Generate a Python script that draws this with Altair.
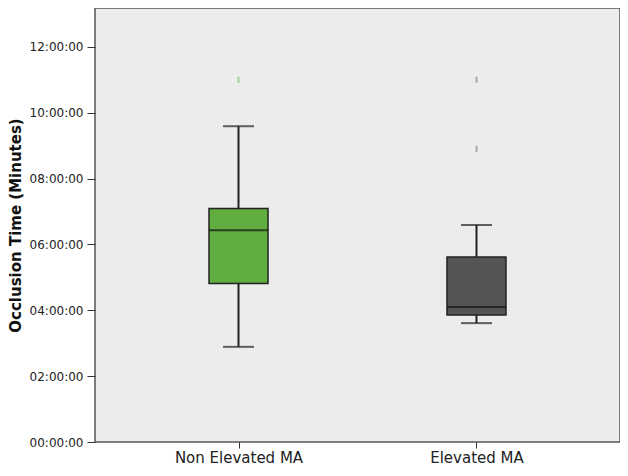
import altair as alt
import pandas as pd

groups = ["Non Elevated MA", "Elevated MA"]
whisker_low = [2.89, 3.61]
q1 = [4.81, 3.86]
median = [6.43, 4.10]
q3 = [7.09, 5.62]
whisker_high = [9.59, 6.59]
box_colors = ["#62ad3f", "#555555"]
outlier_colors = ["#7fc86c", "#8a8a8a"]

outlier_groups = ["Non Elevated MA", "Elevated MA", "Elevated MA"]
outlier_values = [11.0, 11.0, 8.9]

y_ticks = [0, 2, 4, 6, 8, 10, 12]

df = pd.DataFrame({
    "group": groups, "lo": whisker_low, "q1": q1, "med": median,
    "q3": q3, "hi": whisker_high,
})
out_df = pd.DataFrame({"group": outlier_groups, "v": outlier_values})

xenc = alt.X("group:N", sort=groups,
             scale=alt.Scale(type="point", padding=0.603),
             axis=alt.Axis(title=None, labelFontSize=15, labelColor="#222222",
                           tickSize=6, tickColor="#333333", labelPadding=2,
                           domain=False, labelAngle=0))
yscale = alt.Scale(domain=[0, 13.18], nice=False, zero=False)
yaxis = alt.Axis(values=y_ticks, title="Occlusion Time (Minutes)",
                 labelExpr="(datum.value < 10 ? '0' : '') + datum.value + ':00:00'",
                 labelFontSize=12, labelColor="#222222", tickSize=8,
                 tickColor="#333333", labelPadding=4, domain=False, grid=False,
                 titleFontSize=15, titleFontWeight="bold", titleColor="#111111",
                 titlePadding=6)

base = alt.Chart(df)

whisk = base.mark_rule(color="#222222", strokeWidth=2).encode(
    x=xenc, y=alt.Y("lo:Q", scale=yscale, axis=yaxis), y2="hi:Q")

cap_lo = base.mark_tick(color="#222222", size=31, thickness=2).encode(
    x=alt.X("group:N", sort=groups), y="lo:Q")
cap_hi = base.mark_tick(color="#222222", size=31, thickness=2).encode(
    x=alt.X("group:N", sort=groups), y="hi:Q")

box = base.mark_bar(size=59, stroke="#222222", strokeWidth=1.5).encode(
    x=alt.X("group:N", sort=groups), y="q1:Q", y2="q3:Q",
    color=alt.Color("group:N", scale=alt.Scale(domain=groups, range=box_colors), legend=None))

med = base.mark_tick(color="#111111", size=59, thickness=2).encode(
    x=alt.X("group:N", sort=groups), y="med:Q")

outl = alt.Chart(out_df).mark_tick(orient="vertical", size=6, thickness=2).encode(
    x=alt.X("group:N", sort=groups), y="v:Q",
    color=alt.Color("group:N", scale=alt.Scale(domain=groups, range=outlier_colors), legend=None))

chart = alt.layer(whisk, cap_lo, cap_hi, box, med, outl).resolve_scale(color="independent").properties(
    width=525, height=434,
    autosize=alt.AutoSizeParams(type="none"),
    padding={"left": 87, "top": 0, "right": 0, "bottom": 26},
).configure(font="DejaVu Sans").configure_view(
    fill="#ececec", stroke="#555555", strokeWidth=1.5
)

chart.save("out.html", embed_options={"renderer": "svg", "actions": False})
